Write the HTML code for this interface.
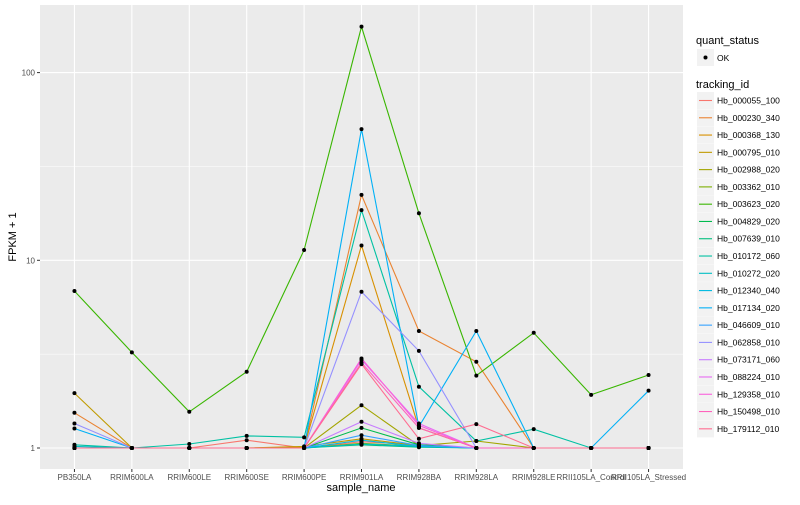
<!DOCTYPE html>
<html><head><meta charset="utf-8"><style>
body{margin:0;background:#fff;}
svg text{font-family:"Liberation Sans",sans-serif;}
</style></head><body>
<svg id="chart" width="800" height="500" xmlns="http://www.w3.org/2000/svg"></svg>
<script>
const categories=["PB350LA","RRIM600LA","RRIM600LE","RRIM600SE","RRIM600PE","RRIM901LA","RRIM928BA","RRIM928LA","RRIM928LE","RRII105LA_Control","RRII105LA_Stressed"];
const trackingIds=["Hb_000055_100","Hb_000230_340","Hb_000368_130","Hb_000795_010","Hb_002988_020","Hb_003362_010","Hb_003623_020","Hb_004829_020","Hb_007639_010","Hb_010172_060","Hb_010272_020","Hb_012340_040","Hb_017134_020","Hb_046609_010","Hb_062858_010","Hb_073171_060","Hb_088224_010","Hb_129358_010","Hb_150498_010","Hb_179112_010"];
const colors=["#F8766D","#EA8331","#D89000","#C09B00","#A3A500","#7CAE00","#39B600","#00BB4E","#00BF7D","#00C1A3","#00BFC4","#00BAE0","#00B0F6","#35A2FF","#9590FF","#C77CFF","#E76BF3","#FA62DB","#FF62BC","#FF6C91"];
const s00=[1.00,1.00,1.00,1.10,1.00,1.08,1.04,1.00,1.00,1.00,1.00];
const s01=[1.54,1.00,1.00,1.00,1.00,22.3,4.20,2.88,1.00,1.00,1.00];
const s02=[1.00,1.00,1.00,1.00,1.01,12.0,1.28,1.00,1.00,1.00,1.00];
const s03=[1.96,1.00,1.00,1.00,1.02,1.12,1.03,1.00,1.00,1.00,1.00];
const s04=[1.00,1.00,1.00,1.00,1.00,1.69,1.03,1.09,1.00,1.00,1.00];
const s05=[1.00,1.00,1.00,1.00,1.00,1.06,1.02,1.00,1.00,1.00,1.00];
const s06=[6.86,3.23,1.56,2.55,11.35,175.7,17.8,2.43,4.11,1.92,2.45];
const s07=[1.00,1.00,1.00,1.00,1.00,1.28,1.04,1.00,1.00,1.00,1.00];
const s08=[1.00,1.00,1.00,1.00,1.00,1.04,1.01,1.00,1.00,1.00,1.00];
const s09=[1.04,1.00,1.05,1.16,1.14,18.5,2.12,1.09,1.26,1.00,1.00];
const s10=[1.02,1.00,1.00,1.00,1.00,1.05,1.02,1.00,1.00,1.00,1.00];
const s11=[1.00,1.00,1.00,1.00,1.00,1.10,1.02,1.00,1.00,1.00,1.00];
const s12=[1.27,1.00,1.00,1.00,1.00,50.0,1.30,4.20,1.00,1.00,2.02];
const s13=[1.00,1.00,1.00,1.00,1.00,1.17,1.03,1.00,1.00,1.00,1.00];
const s14=[1.35,1.00,1.00,1.00,1.00,6.8,3.29,1.00,1.00,1.00,1.00];
const s15=[1.00,1.00,1.00,1.00,1.00,1.38,1.06,1.00,1.00,1.00,1.00];
const s16=[1.00,1.00,1.00,1.00,1.00,2.95,1.35,1.00,1.00,1.00,1.00];
const s17=[1.00,1.00,1.00,1.00,1.00,3.0,1.32,1.00,1.00,1.00,1.00];
const s18=[1.00,1.00,1.00,1.00,1.00,2.85,1.28,1.00,1.00,1.00,1.00];
const s19=[1.00,1.00,1.00,1.00,1.00,2.8,1.12,1.34,1.00,1.00,1.00];
const series=[s00,s01,s02,s03,s04,s05,s06,s07,s08,s09,s10,s11,s12,s13,s14,s15,s16,s17,s18,s19];
const yTicks=[1,10,100];
const yTickLabels=["1","10","100"];

const NS="http://www.w3.org/2000/svg";
const svg=document.getElementById("chart");
const PL=40,PR=683,PT=5,PB=469;
function xs(i){return PL+(i+0.6)*(PR-PL)/11.2;}
function ys(v){return 448-Math.log10(v)*187.7;}
function mk(tag,attrs,parent){const e=document.createElementNS(NS,tag);for(const k in attrs)e.setAttribute(k,attrs[k]);(parent||svg).appendChild(e);return e;}

const panel=mk("rect",{x:PL,y:PT,width:PR-PL,height:PB-PT,fill:"#EBEBEB"});


[0.5,1.5].forEach(m=>{const g=mk("line",{x1:PL,x2:PR,y1:ys(Math.pow(10,m)),y2:ys(Math.pow(10,m)),stroke:"#fff","stroke-width":0.5});

});
yTicks.forEach((t,i)=>{const g=mk("line",{x1:PL,x2:PR,y1:ys(t),y2:ys(t),stroke:"#fff","stroke-width":1.1});


const tk=mk("line",{x1:PL-3,x2:PL,y1:ys(t),y2:ys(t),stroke:"#333","stroke-width":1});


const tl=mk("text",{x:PL-5,y:ys(t)+3,"text-anchor":"end","font-size":8,fill:"#4D4D4D"});tl.textContent=yTickLabels[i];

});
categories.forEach((c,i)=>{const g=mk("line",{x1:xs(i),x2:xs(i),y1:PT,y2:PB,stroke:"#fff","stroke-width":1.1});


const tk=mk("line",{x1:xs(i),x2:xs(i),y1:PB,y2:PB+3,stroke:"#333","stroke-width":1});


const tl=mk("text",{x:xs(i),y:PB+11,"text-anchor":"middle","font-size":8,fill:"#4D4D4D"});tl.textContent=c;

});
series.forEach((s,k)=>{const pts=s.map((v,i)=>xs(i).toFixed(1)+","+ys(v).toFixed(1)).join(" ");
const l=mk("polyline",{points:pts,fill:"none",stroke:colors[k],"stroke-width":1.1});

});
series.forEach((s,k)=>{s.forEach((v,i)=>{const p=mk("circle",{cx:xs(i),cy:ys(v),r:2,fill:"#000"});

});});
let t=mk("text",{x:361,y:491,"text-anchor":"middle","font-size":11,fill:"#000"});t.textContent="sample_name";


t=mk("text",{x:0,y:0,"text-anchor":"middle","font-size":11,fill:"#000",transform:"translate(16,237) rotate(-90)"});t.textContent="FPKM + 1";


t=mk("text",{x:696,y:44,"font-size":11,fill:"#000"});t.textContent="quant_status";


let b=mk("rect",{x:697,y:49,width:17,height:17,fill:"#F2F2F2"});


mk("circle",{cx:705.5,cy:57.5,r:2,fill:"#000"});
t=mk("text",{x:717,y:61,"font-size":8.5,fill:"#000"});t.textContent="OK";


t=mk("text",{x:696,y:88,"font-size":11,fill:"#000"});t.textContent="tracking_id";


trackingIds.forEach((id,k)=>{const y=92+k*17.28;
const r=mk("rect",{x:697,y:y,width:17,height:17,fill:"#F2F2F2"});


mk("line",{x1:699,x2:712,y1:y+8.5,y2:y+8.5,stroke:colors[k],"stroke-width":1.1});
const tx=mk("text",{x:717,y:y+11.5,"font-size":8.5,fill:"#000"});tx.textContent=id;

});
</script>
</body></html>
